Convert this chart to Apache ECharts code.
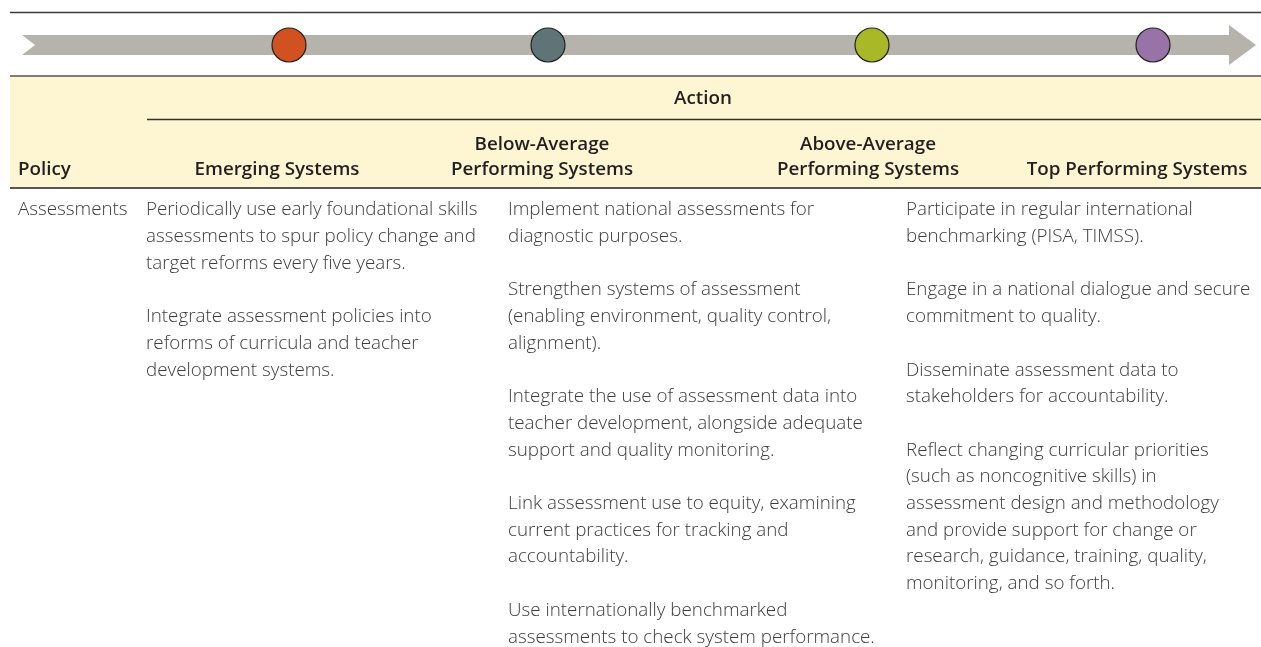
<!DOCTYPE html>
<html>
<head>
<meta charset="utf-8">
<script src="https://cdn.jsdelivr.net/npm/echarts@6/dist/echarts.min.js"></script>
<style>
html,body{margin:0;padding:0;background:#fff;}
#chart{width:1261px;height:647px;}
</style>
</head>
<body>
<div id="chart"></div>
<script>
// ---- data ----
const stages = ['Emerging Systems', 'Below-Average\nPerforming Systems', 'Above-Average\nPerforming Systems', 'Top Performing Systems'];
const stageColors = ['#D15121', '#5F7476', '#A9B827', '#9873A8'];
const stageMarkerX = [289, 548, 872, 1153];
const policyHeader = 'Policy';
const actionHeader = 'Action';
const policyName = 'Assessments';
const emergingActions = [
  ['Periodically use early foundational skills', 'assessments to spur policy change and', 'target reforms every five years.'],
  ['Integrate assessment policies into', 'reforms of curricula and teacher', 'development systems.']
];
const belowAvgActions = [
  ['Implement national assessments for', 'diagnostic purposes.'],
  ['Strengthen systems of assessment', '(enabling environment, quality control,', 'alignment).'],
  ['Integrate the use of assessment data into', 'teacher development, alongside adequate', 'support and quality monitoring.'],
  ['Link assessment use to equity, examining', 'current practices for tracking and', 'accountability.'],
  ['Use internationally benchmarked', 'assessments to check system performance.']
];
const aboveTopActions = [
  ['Participate in regular international', 'benchmarking (PISA, TIMSS).'],
  ['Engage in a national dialogue and secure', 'commitment to quality.'],
  ['Disseminate assessment data to', 'stakeholders for accountability.'],
  ['Reflect changing curricular priorities', '(such as noncognitive skills) in', 'assessment design and methodology', 'and provide support for change or', 'research, guidance, training, quality,', 'monitoring, and so forth.']
];

// ---- layout ----
const FONT = '"Open Sans", "Noto Sans", sans-serif';
const bodyColor = '#3c3c3c';
const headColor = '#231f20';
const lineH = 26.7;
const bodyTop = 210;
const headerCenters = [277, 542, 868, 1137];
const bodyCols = [
  {x: 146, paras: emergingActions},
  {x: 508, paras: belowAvgActions},
  {x: 906, paras: aboveTopActions}
];

const g = [];
// top rule
g.push({type: 'line', shape: {x1: 10, y1: 12.5, x2: 1261, y2: 12.5}, style: {stroke: '#3a3a3a', lineWidth: 1.5}});
// arrow
g.push({type: 'polygon', shape: {points: [[22,35],[1229,35],[1229,25],[1256,45],[1229,65],[1229,55],[22,55],[35,45]]}, style: {fill: '#B6B3AC'}});
// header band
g.push({type: 'rect', shape: {x: 10, y: 76, width: 1251, height: 112}, style: {fill: '#FEF5D3'}});
g.push({type: 'line', shape: {x1: 10, y1: 76, x2: 1261, y2: 76}, style: {stroke: '#555', lineWidth: 1.6}});
g.push({type: 'line', shape: {x1: 10, y1: 188, x2: 1261, y2: 188}, style: {stroke: '#555', lineWidth: 2}});
g.push({type: 'line', shape: {x1: 147, y1: 119.5, x2: 1261, y2: 119.5}, style: {stroke: '#333', lineWidth: 1.3}});
// header texts
const headFont = '600 18.8px ' + FONT;
g.push({type: 'text', x: 703, y: 99, style: {text: actionHeader, font: headFont, fill: headColor, textAlign: 'center', textVerticalAlign: 'middle'}});
g.push({type: 'text', x: 18, y: 170, style: {text: policyHeader, font: headFont, fill: headColor, textAlign: 'left', textVerticalAlign: 'middle'}});
stages.forEach((s, i) => {
  const lines = s.split('\n');
  lines.forEach((ln, j) => {
    const y = 170 - (lines.length - 1 - j) * 25;
    g.push({type: 'text', x: headerCenters[i], y: y, style: {text: ln, font: headFont, fill: headColor, textAlign: 'center', textVerticalAlign: 'middle'}});
  });
});
// body texts
const bodyFont = '300 18.8px ' + FONT;
g.push({type: 'text', x: 18, y: bodyTop, style: {text: policyName, font: bodyFont, fill: bodyColor, textAlign: 'left', textVerticalAlign: 'middle'}});
bodyCols.forEach(col => {
  let idx = 0;
  col.paras.forEach(p => {
    p.forEach(ln => {
      g.push({type: 'text', x: col.x, y: bodyTop + idx * lineH, style: {text: ln, font: bodyFont, fill: bodyColor, textAlign: 'left', textVerticalAlign: 'middle'}});
      idx++;
    });
    idx++;
  });
});

const chart = echarts.init(document.getElementById('chart'), null, {renderer: 'canvas'});
chart.setOption({
  animation: false,
  backgroundColor: '#fff',
  grid: {left: 0, right: 0, top: 0, bottom: 0},
  xAxis: {type: 'value', min: 0, max: 1261, show: false},
  yAxis: {type: 'value', min: 0, max: 647, inverse: true, show: false},
  graphic: g,
  series: [{
    type: 'scatter',
    symbol: 'circle',
    symbolSize: 34,
    data: stageMarkerX.map((x, i) => ({value: [x, 45], itemStyle: {color: stageColors[i]}})),
    itemStyle: {borderColor: '#231f20', borderWidth: 1.2, opacity: 1},
    z: 5
  }]
});
</script>
</body>
</html>
